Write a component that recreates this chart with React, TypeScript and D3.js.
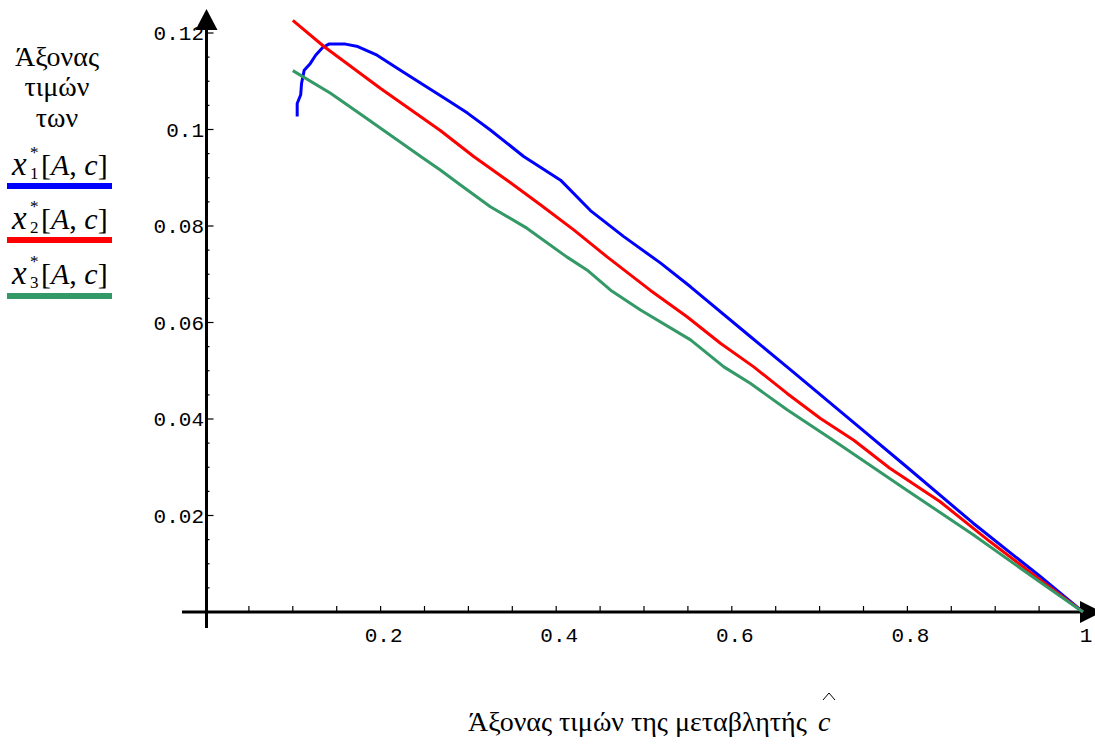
import React from "react";
import * as d3 from "d3";

const blueX = [0.105, 0.105, 0.109, 0.110, 0.113, 0.120, 0.126, 0.134, 0.141, 0.160, 0.174, 0.196, 0.219, 0.249, 0.276, 0.299, 0.325, 0.363, 0.405, 0.439, 0.477, 0.519, 0.553, 0.621, 0.667, 0.742, 0.799, 0.875, 0.951, 1.0];
const blueY = [0.1027, 0.1054, 0.1072, 0.1096, 0.1123, 0.1137, 0.1154, 0.1170, 0.1177, 0.1177, 0.1172, 0.1154, 0.1127, 0.1092, 0.1061, 0.1034, 0.0999, 0.0944, 0.0895, 0.0832, 0.0778, 0.0723, 0.0674, 0.0571, 0.0502, 0.0388, 0.0301, 0.0184, 0.0074, 0.0];

const redX = [0.1, 0.1355, 0.2, 0.268, 0.306, 0.344, 0.382, 0.420, 0.458, 0.507, 0.549, 0.587, 0.625, 0.663, 0.701, 0.739, 0.780, 0.837, 0.894, 0.951, 1.0];
const redY = [0.1226, 0.1172, 0.1085, 0.0998, 0.0944, 0.0895, 0.0844, 0.0792, 0.0736, 0.0667, 0.0612, 0.0557, 0.0508, 0.0453, 0.0401, 0.0356, 0.0298, 0.0229, 0.0146, 0.0067, 0.0];

const greenX = [0.1, 0.143, 0.181, 0.249, 0.268, 0.291, 0.325, 0.367, 0.412, 0.435, 0.462, 0.496, 0.553, 0.591, 0.621, 0.663, 0.712, 0.7235, 0.799, 0.875, 0.951, 1.0];
const greenY = [0.1122, 0.1075, 0.1027, 0.0940, 0.0916, 0.0885, 0.0840, 0.0795, 0.0736, 0.0709, 0.0667, 0.0626, 0.0564, 0.0508, 0.0474, 0.0419, 0.0360, 0.0346, 0.0253, 0.0160, 0.0062, 0.0];

const xTickLabels = ["0.2", "0.4", "0.6", "0.8", "1"];
const xTickValues = [0.2, 0.4, 0.6, 0.8, 1];
const yTickLabels = ["0.02", "0.04", "0.06", "0.08", "0.1", "0.12"];
const yTickValues = [0.02, 0.04, 0.06, 0.08, 0.1, 0.12];

const series = [
  { name: "1", xs: blueX, ys: blueY, color: "#0000ff" },
  { name: "2", xs: redX, ys: redY, color: "#ff0000" },
  { name: "3", xs: greenX, ys: greenY, color: "#339966" },
];

const mono = "Liberation Mono, Courier New, Courier, monospace";
const serif = "Liberation Serif, Times New Roman, Times, DejaVu Serif, serif";

export default function App() {
  const W = 1095, H = 745;
  const x = d3.scaleLinear().domain([0, 1]).range([205, 1083]);
  const y = d3.scaleLinear().domain([0, 0.12]).range([612, 33]);
  const line = d3
    .line<[number, number]>()
    .x((d) => x(d[0]))
    .y((d) => y(d[1]));

  const x0 = x(0) + 1.5;
  const y0 = y(0);
  const xMinor = d3.range(1, 20).map((i) => i * 0.05);
  const yMinor = d3.range(1, 24).map((i) => i * 0.005).filter((v) => Math.abs(v / 0.02 - Math.round(v / 0.02)) > 1e-6);

  const legendBaselines = [175, 229, 284];
  const legendLineY = [186, 240, 296];

  const monoStyle = { fontFamily: mono, fontSize: 21 } as React.CSSProperties;
  const serifStyle = { fontFamily: serif } as React.CSSProperties;

  return (
    <svg
      width={W}
      height={H}
      style={{ position: "absolute", left: 0, top: 0, background: "#fff" }}
    >
      <rect x={0} y={0} width={W} height={H} fill="#fff" />
      {/* axes */}
      <line x1={182} x2={1082} y1={y0} y2={y0} stroke="#000" strokeWidth={3} />
      <path d={`M1080,${y0 - 11} L1102,${y0} L1080,${y0 + 11} Z`} fill="#000" />
      <line x1={x0} x2={x0} y1={628} y2={28} stroke="#000" strokeWidth={3} />
      <path d={`M${x0 - 11},30 L${x0},9 L${x0 + 11},30 Z`} fill="#000" />

      {xMinor.map((v, i) => (
        <line key={"xt" + i} x1={x(v)} x2={x(v)} y1={y0} y2={y0 - 6} stroke="#000" strokeWidth={1.2} />
      ))}
      {xTickValues.map((v, i) => (
        <text key={"xl" + i} x={x(v) + 3} y={642} textAnchor="middle" style={monoStyle} fill="#000">
          {xTickLabels[i]}
        </text>
      ))}
      {yMinor.map((v, i) => (
        <line key={"ym" + i} x1={x0} x2={x0 + 3} y1={y(v)} y2={y(v)} stroke="#000" strokeWidth={1.2} />
      ))}
      {yTickValues.map((v, i) => (
        <g key={"yt" + i}>
          <line x1={x0} x2={x0 + 7} y1={y(v)} y2={y(v)} stroke="#000" strokeWidth={1.2} />
          <text x={204} y={y(v)} dy="0.35em" textAnchor="end" style={monoStyle} fill="#000">
            {yTickLabels[i]}
          </text>
        </g>
      ))}

      {/* series */}
      {series.map((s) => (
        <path
          key={s.name}
          d={line(s.xs.map((v, i) => [v, s.ys[i]] as [number, number])) || ""}
          fill="none"
          stroke={s.color}
          strokeWidth={3}
          strokeLinejoin="round"
        />
      ))}

      {/* left legend / y title */}
      <g style={serifStyle} fill="#000">
        <text x={57} y={66} textAnchor="middle" fontSize={28}>Άξονας</text>
        <text x={57} y={96} textAnchor="middle" fontSize={28}>τιμών</text>
        <text x={57} y={127} textAnchor="middle" fontSize={28}>των</text>
        {series.map((s, i) => {
          const b = legendBaselines[i];
          return (
            <g key={"lg" + i}>
              <text x={12} y={b} fontSize={33} fontStyle="italic">x</text>
              <text x={30} y={b + 4} fontSize={17}>{s.name}</text>
              <text x={30} y={b - 17} fontSize={17}>*</text>
              <text x={41} y={b} fontSize={30}>
                [<tspan fontStyle="italic">A</tspan>, <tspan fontStyle="italic">c</tspan>]
              </text>
              <line x1={7} x2={112} y1={legendLineY[i]} y2={legendLineY[i]} stroke={s.color} strokeWidth={6} />
            </g>
          );
        })}
      </g>

      {/* x title */}
      <g style={serifStyle} fill="#000">
        <text x={468} y={731} fontSize={28}>Άξονας τιμών της μεταβλητής</text>
        <text x={818} y={731} fontSize={28} fontStyle="italic">c</text>
      </g>
      <path d="M823,700 L829,693 L835,700" fill="none" stroke="#000" strokeWidth={1} />
    </svg>
  );
}
